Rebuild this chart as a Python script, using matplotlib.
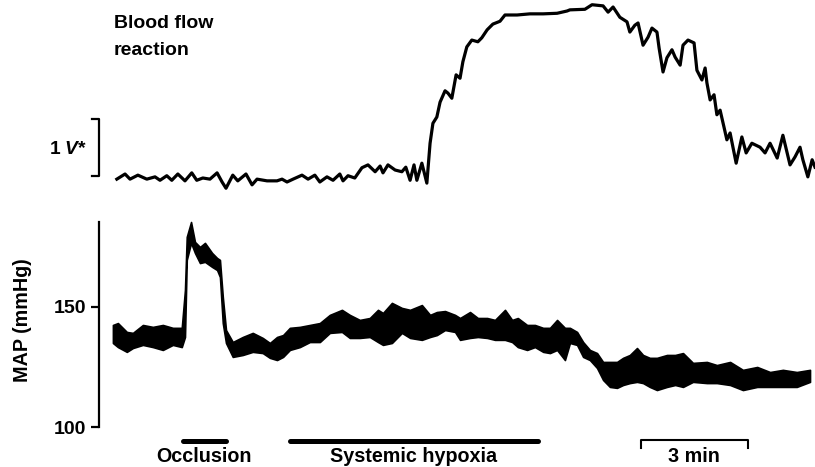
import matplotlib
matplotlib.use('Agg')
import matplotlib.pyplot as plt

plt.rcParams['font.family'] = ['Liberation Sans', 'DejaVu Sans']
plt.rcParams['font.weight'] = 'bold'
plt.rcParams['axes.labelweight'] = 'bold'
plt.rcParams['mathtext.fontset'] = 'custom'
plt.rcParams['mathtext.it'] = 'Liberation Sans:italic:bold'
plt.rcParams['mathtext.rm'] = 'Liberation Sans:bold'

# Blood flow reaction (V above baseline), time in min
flow_t = [0.11, 0.34, 0.48, 0.70, 0.95, 1.18, 1.32, 1.51, 1.65, 1.82, 2.02, 2.21, 2.35, 2.52,
          2.72, 2.92, 3.06, 3.17, 3.36, 3.50, 3.73, 3.90, 4.04, 4.32, 4.60, 4.74, 4.88, 5.05,
          5.30, 5.47, 5.66, 5.80, 6.00, 6.17, 6.36,
          6.45, 6.59, 6.78, 6.98, 7.15, 7.35, 7.49, 7.57, 7.71, 7.91, 8.10, 8.21, 8.33, 8.44,
          8.52, 8.66, 8.80, 8.89, 8.97, 9.08, 9.17, 9.31, 9.39, 9.50, 9.62, 9.73, 9.81, 9.92,
          10.06, 10.23, 10.34, 10.49, 10.65, 10.85, 10.99, 11.33, 11.69, 12.06, 12.45, 12.73,
          12.81, 13.23, 13.43, 13.74, 13.88, 14.02, 14.21, 14.41, 14.49, 14.63, 14.72, 14.86,
          15.00, 15.11, 15.25, 15.31, 15.42, 15.53, 15.67, 15.76, 15.90, 15.98, 16.12, 16.29,
          16.37, 16.51, 16.60, 16.65, 16.74, 16.85, 16.93, 17.02, 17.13, 17.21, 17.30, 17.47,
          17.63, 17.75, 17.91, 18.14, 18.28, 18.42, 18.62, 18.78, 18.98, 19.12, 19.26, 19.34,
          19.48, 19.60, 19.68]
flow_v = [-0.02, 0.07, -0.02, 0.05, -0.02, 0.02, -0.04, 0.04, -0.04, 0.07, -0.05, 0.09, -0.04, 0.00,
          -0.02, 0.09, -0.07, -0.18, 0.05, -0.05, 0.07, -0.12, -0.02, -0.05, -0.05, -0.02, -0.07, -0.02,
          0.05, -0.02, 0.05, -0.07, 0.02, -0.04, 0.07,
          -0.05, 0.04, 0.00, 0.18, 0.23, 0.11, 0.21, 0.09, 0.23, 0.14, 0.11, 0.19, -0.04, 0.23,
          -0.04, 0.26, -0.09, 0.61, 0.96, 1.07, 1.33, 1.53, 1.49, 1.40, 1.81, 1.75, 2.04, 2.30,
          2.42, 2.39, 2.46, 2.60, 2.70, 2.75, 2.86, 2.86, 2.88, 2.88, 2.89, 2.93,
          2.95, 2.96, 3.04, 3.02, 2.91, 3.00, 2.82, 2.74, 2.56, 2.68, 2.72, 2.33,
          2.47, 2.63, 2.56, 2.28, 1.86, 2.11, 2.25, 2.12, 1.98, 2.33, 2.42, 2.37,
          1.89, 1.72, 1.93, 1.67, 1.37, 1.46, 1.11, 1.19, 0.89, 0.67, 0.79, 0.26,
          0.72, 0.44, 0.61, 0.54, 0.44, 0.61, 0.35, 0.75, 0.23, 0.37, 0.54, 0.32,
          0.02, 0.32, 0.19]

# Mean arterial pressure (mmHg): upper and lower edge of the trace
map_t = [0.00, 0.14, 0.39, 0.56, 0.84, 1.12, 1.40, 1.68, 1.93, 2.02, 2.07, 2.19, 2.30, 2.44,
         2.58, 2.78, 2.92, 3.00, 3.08, 3.17, 3.36, 3.64, 3.92, 4.20, 4.40, 4.60, 4.77, 4.96,
         5.24, 5.52, 5.80, 6.08, 6.42, 6.64, 6.92, 7.20, 7.43, 7.57, 7.82, 8.10, 8.33, 8.66,
         8.89, 9.08, 9.31, 9.59, 9.73, 10.01, 10.23, 10.49, 10.71, 10.99, 11.19, 11.35, 11.61,
         11.83, 12.06, 12.25, 12.45, 12.67, 12.81, 13.01, 13.18, 13.37, 13.57, 13.74, 13.93,
         14.13, 14.30, 14.49, 14.69, 14.86, 15.05, 15.25, 15.53, 15.76, 15.98, 16.26, 16.65,
         16.93, 17.30, 17.66, 18.06, 18.42, 18.78, 19.17, 19.54]
map_hi = [142.5, 143.3, 139.6, 139.2, 142.5, 141.7, 142.5, 141.3, 141.3, 157.1, 179.2, 185.4, 177.1, 175.0,
          176.7, 172.5, 170.4, 169.6, 154.2, 140.4, 135.4, 137.5, 139.2, 137.1, 135.0, 137.5, 138.3, 141.3,
          141.7, 142.5, 143.3, 146.7, 148.8, 146.7, 144.6, 145.4, 148.8, 147.5, 151.7, 149.6, 148.8, 150.8,
          146.7, 147.9, 148.3, 146.7, 145.4, 147.9, 145.4, 145.4, 144.6, 148.8, 144.6, 145.4, 142.5,
          142.5, 141.3, 141.3, 144.6, 141.3, 141.3, 139.6, 135.4, 132.1, 130.8, 127.1, 127.1,
          127.1, 128.8, 130.0, 132.9, 130.0, 128.8, 128.8, 130.0, 130.0, 130.8, 126.7, 127.1,
          125.8, 127.1, 123.8, 125.0, 122.9, 123.8, 122.9, 123.8]
map_lo = [135.0, 133.3, 131.3, 132.9, 134.2, 133.3, 132.1, 134.2, 133.3, 137.5, 169.6, 176.7, 172.5, 168.3,
          168.8, 166.7, 165.4, 162.5, 143.3, 135.0, 129.2, 130.0, 131.3, 130.8, 128.8, 127.9, 129.2, 132.1,
          133.3, 135.4, 135.4, 139.2, 139.6, 137.1, 137.1, 137.5, 135.4, 134.2, 135.0, 139.2, 137.1, 136.3,
          137.5, 138.3, 140.4, 139.6, 136.3, 137.1, 137.5, 137.1, 136.3, 136.3, 135.4, 133.3, 132.1,
          133.3, 131.3, 130.8, 132.1, 127.9, 135.0, 134.2, 129.2, 127.9, 124.6, 119.6, 116.7,
          116.3, 117.5, 118.3, 118.8, 118.3, 116.7, 115.4, 116.7, 117.5, 116.7, 118.8, 118.3,
          118.3, 117.5, 115.4, 116.7, 116.7, 116.7, 116.7, 118.8]

# event markers (min)
occlusion = [1.96, 3.17]
hypoxia = [4.96, 11.91]
scale_3min = [14.80, 17.80]

fig = plt.figure(figsize=(8.15, 4.67), dpi=100)
xlim = (-0.39, 19.68)

# top panel: blood flow
ax_flow = fig.add_axes([99/815, 267/467, 716/815, 200/467])
ax_flow.plot(flow_t, flow_v, color='black', lw=2.3, solid_joinstyle='round')
ax_flow.set_xlim(xlim)
ax_flow.set_ylim(-0.386, 3.123)
ax_flow.axis('off')

# 1 V calibration bracket
ax_flow.plot([-0.59, -0.39, -0.39, -0.59], [1.04, 1.04, 0.04, 0.04], color='black', lw=1.6,
             clip_on=False)
ax_flow.text(-0.72, 0.50, '1 $V$*', ha='right', va='center', fontsize=13.8)
ax_flow.text(0.03, 2.63, 'Blood flow', ha='left', va='baseline', fontsize=14)
ax_flow.text(0.03, 2.16, 'reaction', ha='left', va='baseline', fontsize=14)

# bottom panel: MAP
ax_map = fig.add_axes([99/815, 40/467, 716/815, 205/467])
ax_map.fill_between(map_t, map_lo, map_hi, color='black', lw=1.2, clip_on=False)
ax_map.set_xlim(xlim)
ax_map.set_ylim(100, 185.4)
for s in ['top', 'right', 'bottom']:
    ax_map.spines[s].set_visible(False)
ax_map.spines['left'].set_linewidth(1.6)
ax_map.set_xticks([])
ax_map.set_yticks([100, 150])
ax_map.tick_params(axis='y', length=6, width=1.6, labelsize=14, pad=3)
ax_map.set_ylabel('MAP (mmHg)', fontsize=14.2, fontweight='bold')
ax_map.yaxis.set_label_coords(-0.094, 0.52)

# bars under the trace
ax_map.plot(occlusion, [94.2, 94.2], color='black', lw=3.6, clip_on=False, solid_capstyle='round')
ax_map.plot(hypoxia, [94.2, 94.2], color='black', lw=3.6, clip_on=False, solid_capstyle='round')
ax_map.plot([scale_3min[0], scale_3min[0], scale_3min[1], scale_3min[1]], [91.3, 94.6, 94.6, 91.3],
            color='black', lw=1.5, clip_on=False)
ax_map.text(sum(occlusion) / 2, 87.9, 'Occlusion', ha='center', va='center', fontsize=14.2)
ax_map.text(sum(hypoxia) / 2, 87.9, 'Systemic hypoxia', ha='center', va='center', fontsize=14.2)
ax_map.text(sum(scale_3min) / 2, 87.9, '3 min', ha='center', va='center', fontsize=14.2)

fig.savefig('out.png', dpi=100)
